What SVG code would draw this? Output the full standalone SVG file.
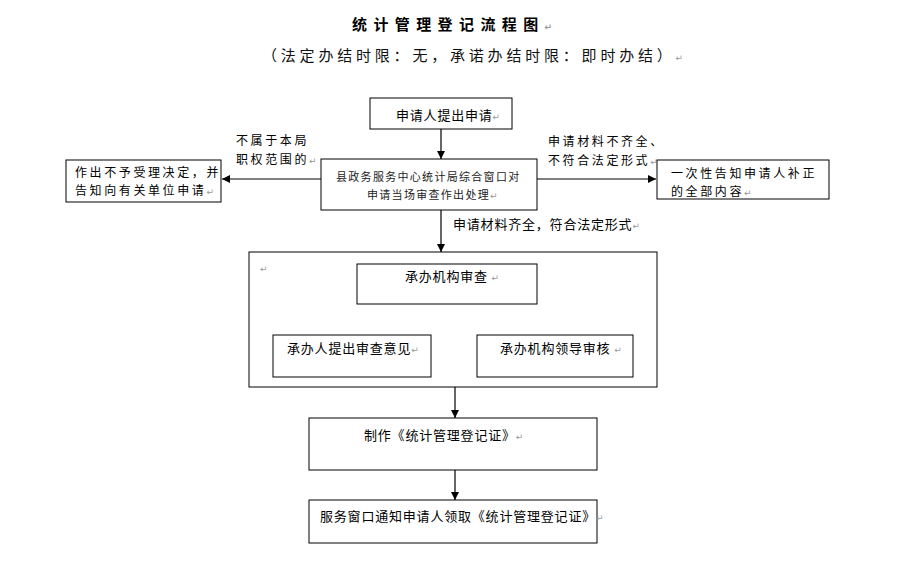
<svg xmlns="http://www.w3.org/2000/svg" width="909" height="562" viewBox="0 0 909 562">
<defs>
<marker id="ah" viewBox="0 0 10 10" refX="10" refY="5" markerWidth="8" markerHeight="8" markerUnits="userSpaceOnUse" orient="auto">
<path d="M0,0 L10,5 L0,10 z" fill="#000"/>
</marker>
</defs>
<style>
.t{font-family:"Noto Sans CJK SC","Liberation Sans",sans-serif;font-size:13px;fill:#000;letter-spacing:0.8px}
.s{font-family:"Noto Sans CJK SC","Liberation Sans",sans-serif;font-size:12px;fill:#000;letter-spacing:2.6px}
.m{font-family:"Noto Sans CJK SC","Liberation Sans",sans-serif;font-size:11px;fill:#222;letter-spacing:1.3px}
.p{font-family:"DejaVu Sans",sans-serif;font-size:9px;fill:#999;letter-spacing:0}
.b{fill:#fff;stroke:#000;stroke-width:1}
.c{stroke:#000;stroke-width:1.2;fill:none}
</style>
<rect width="909" height="562" fill="#fff"/>
<text x="352" y="30" style="font-family:'Noto Sans CJK SC',sans-serif;font-size:15px;font-weight:bold;letter-spacing:6.4px">统计管理登记流程图<tspan class="p">↵</tspan></text>
<text x="262" y="61" style="font-family:'Noto Sans CJK SC',sans-serif;font-size:15px;letter-spacing:3.8px;fill:#111">（法定办结时限：无，承诺办结时限：即时办结）<tspan class="p">↵</tspan></text>

<g id="connectors">
<line class="c" x1="441" y1="129" x2="441" y2="159" marker-end="url(#ah)"/>
<line class="c" x1="321" y1="179" x2="222" y2="179" marker-end="url(#ah)"/>
<line class="c" x1="537" y1="179" x2="656" y2="179" marker-end="url(#ah)"/>
<line class="c" x1="441" y1="210" x2="441" y2="252" marker-end="url(#ah)"/>
<line class="c" x1="370" y1="304" x2="370" y2="335" marker-end="url(#ah)" stroke="#333"/>
<line class="c" x1="525" y1="304" x2="525" y2="335" marker-end="url(#ah)" stroke="#333"/>
<line class="c" x1="455" y1="387" x2="455" y2="418" marker-end="url(#ah)"/>
<line class="c" x1="455" y1="470" x2="455" y2="500" marker-end="url(#ah)"/>
</g>

<g id="label-left">
<text class="s" x="236" y="145">不属于本局</text>
<text class="s" x="236" y="164">职权范围的<tspan class="p">↵</tspan></text>
</g>
<g id="label-right">
<text class="s" x="548" y="146">申请材料不齐全、</text>
<text class="s" x="548" y="165">不符合法定形式<tspan class="p">↵</tspan></text>
</g>
<g id="label-down">
<text class="t" x="453" y="229">申请材料齐全，符合法定形式<tspan class="p">↵</tspan></text>
</g>

<g id="n-apply">
<rect class="b" x="370" y="98" width="142" height="31"/>
<text class="t" x="396" y="120">申请人提出申请<tspan class="p">↵</tspan></text>
</g>
<g id="n-window">
<rect class="b" x="321" y="159" width="216" height="51"/>
<text class="m" x="336" y="181">县政务服务中心统计局综合窗口对</text>
<text class="m" x="367" y="199">申请当场审查作出处理<tspan class="p">↵</tspan></text>
</g>
<g id="n-reject">
<rect class="b" x="66" y="160" width="155" height="42"/>
<text class="s" x="75" y="177">作出不予受理决定，并</text>
<text class="s" x="75" y="195">告知向有关单位申请<tspan class="p">↵</tspan></text>
</g>
<g id="n-notify">
<rect class="b" x="657" y="160" width="172" height="39"/>
<text class="s" x="671" y="178">一次性告知申请人补正</text>
<text class="s" x="671" y="196">的全部内容<tspan class="p">↵</tspan></text>
</g>
<g id="n-container">
<rect class="b" x="249" y="252" width="408" height="135" fill="none"/>
<text class="p" x="260" y="272">↵</text>
</g>
<g id="n-review">
<rect class="b" x="357" y="264" width="180" height="40"/>
<text class="t" x="405" y="281">承办机构审查 <tspan class="p">↵</tspan></text>
</g>
<g id="n-opinion">
<rect class="b" x="273" y="335" width="158" height="42"/>
<text class="t" x="287" y="353">承办人提出审查意见<tspan class="p">↵</tspan></text>
</g>
<g id="n-leader">
<rect class="b" x="477" y="335" width="156" height="42"/>
<text class="t" x="500" y="353">承办机构领导审核 <tspan class="p">↵</tspan></text>
</g>
<g id="n-make">
<rect class="b" x="309" y="418" width="288" height="52"/>
<text class="t" x="364" y="440">制作《统计管理登记证》<tspan class="p">↵</tspan></text>
</g>
<g id="n-collect">
<rect class="b" x="309" y="500" width="288" height="43"/>
<text class="t" x="320" y="521">服务窗口通知申请人领取《统计管理登记证》<tspan class="p">↵</tspan></text>
</g>
</svg>
